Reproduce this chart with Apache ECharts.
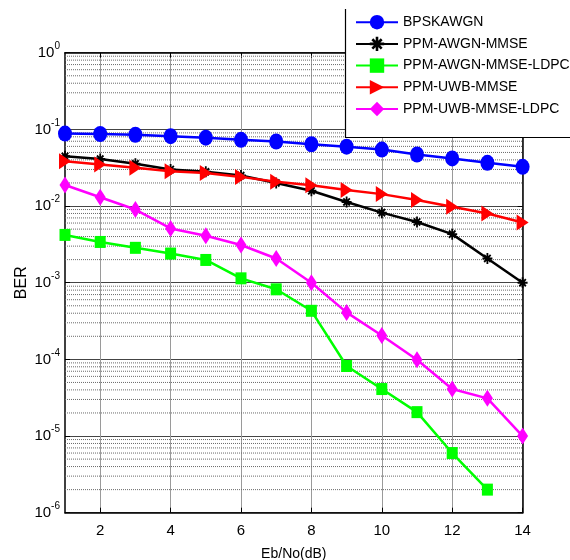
<!DOCTYPE html>
<html>
<head>
<meta charset="utf-8">
<script src="https://cdn.jsdelivr.net/npm/echarts@6/dist/echarts.min.js"></script>
<style>
html,body{margin:0;padding:0;background:#fff;}
#chart{width:570px;height:560px;}
</style>
</head>
<body>
<div id="chart"></div>
<script>
// ---- data ----
const ebno = [1, 2, 3, 4, 5, 6, 7, 8, 9, 10, 11, 12, 13, 14];
const xTickValues = [2, 4, 6, 8, 10, 12, 14];
const seriesNames = ['BPSKAWGN', 'PPM-AWGN-MMSE', 'PPM-AWGN-MMSE-LDPC', 'PPM-UWB-MMSE', 'PPM-UWB-MMSE-LDPC'];
const bpskAwgn = [0.088, 0.087, 0.085, 0.0815, 0.078, 0.073, 0.0695, 0.064, 0.0595, 0.0545, 0.047, 0.0418, 0.0366, 0.0325];
const ppmAwgnMmse = [0.0445, 0.041, 0.0355, 0.0300, 0.0280, 0.0250, 0.0200, 0.0158, 0.0113, 0.0082, 0.0062, 0.0043, 0.00207, 0.00100];
const ppmAwgnMmseLdpc = [0.0042, 0.0034, 0.00285, 0.0024, 0.00198, 0.00114, 0.00082, 0.00043, 0.000082, 0.000041, 0.0000205, 0.0000060, 0.0000020];
const ppmUwbMmse = [0.0385, 0.0348, 0.0315, 0.0285, 0.0270, 0.0240, 0.0207, 0.0187, 0.0162, 0.0143, 0.0120, 0.0098, 0.0080, 0.0061];
const ppmUwbMmseLdpc = [0.0188, 0.0130, 0.0090, 0.0051, 0.0041, 0.0031, 0.00207, 0.00100, 0.00041, 0.000205, 0.000099, 0.000041, 0.000031, 0.0000100];
const yMin = 1e-6, yMax = 1;
const xMin = 1, xMax = 14;

// ---- helpers ----
function pairs(arr) { return arr.map((v, i) => [ebno[i], v]); }
const minorValues = [];
for (let e = -6; e < 0; e++) {
  for (let m = 2; m <= 9; m++) minorValues.push(m * Math.pow(10, e));
}
const FONT = "'Liberation Sans', Arial, sans-serif";
const asteriskPath = 'path://M-0.9,-5 L0.9,-5 L0.9,5 L-0.9,5 Z M-5,-0.9 L5,-0.9 L5,0.9 L-5,0.9 Z ' +
  'M-3.9,-2.6 L-2.6,-3.9 L3.9,2.6 L2.6,3.9 Z M2.6,-3.9 L3.9,-2.6 L-2.6,3.9 L-3.9,2.6 Z';
const triRight = 'path://M0,0 L10,5 L0,10 Z';

const chart = echarts.init(document.getElementById('chart'), null, { renderer: 'canvas' });
const gridL = 65, gridT = 52.7, gridR = 570 - 522.6, gridB = 560 - 512.7;

const yLabel = {
  margin: 5,
  formatter: function (v) {
    const e = Math.round(Math.log10(v));
    return '{b|10}{s|' + e + '}';
  },
  rich: {
    b: { fontSize: 15, fontFamily: FONT, color: '#000', verticalAlign: 'middle', lineHeight: 16 },
    s: { fontSize: 10, fontFamily: FONT, color: '#000', verticalAlign: 'middle', padding: [0, 0, 13, 0], lineHeight: 10 }
  }
};

function lineSeries(name, data, color, symbol, size, z) {
  return {
    name: name, type: 'line', data: pairs(data), z: z,
    symbol: symbol, symbolSize: size, showSymbol: true,
    lineStyle: { color: color, width: 2.5 },
    itemStyle: { color: color },
    emphasis: { disabled: true },
    animation: false
  };
}

const gridSeries = minorValues.map(function (v) {
  return {
    name: 'grid', type: 'line', silent: true, z: 1,
    data: [[xMin, v], [xMax, v]],
    symbol: 'none', showSymbol: false,
    lineStyle: { color: '#6a6a6a', width: 1, type: [1, 1] },
    emphasis: { disabled: true },
    animation: false
  };
});

chart.setOption({
  animation: false,
  backgroundColor: '#fff',
  textStyle: { fontFamily: FONT },
  grid: { left: gridL, top: gridT, right: gridR, bottom: gridB, containLabel: false, outerBoundsMode: 'none' },
  xAxis: [{
    type: 'value', min: xMin, max: xMax,
    name: 'Eb/No(dB)', nameLocation: 'middle', nameGap: 34,
    nameTextStyle: { fontSize: 14, color: '#000', fontFamily: FONT },
    axisLine: { show: true, lineStyle: { color: '#000', width: 1.5 } },
    axisTick: { show: true, inside: true, length: 5, customValues: xTickValues, lineStyle: { color: '#000' } },
    axisLabel: { customValues: xTickValues, fontSize: 15, color: '#000', margin: 11, fontFamily: FONT },
    splitLine: { show: true, lineStyle: { color: '#9a9a9a', width: 1 } }
  }, {
    type: 'value', min: xMin, max: xMax, position: 'top',
    axisLine: { show: true, lineStyle: { color: '#000', width: 1.5 } },
    axisTick: { show: true, inside: true, length: 5, customValues: xTickValues, lineStyle: { color: '#000' } },
    axisLabel: { show: false },
    splitLine: { show: false }
  }],
  yAxis: [{
    type: 'log', logBase: 10, min: yMin, max: yMax,
    name: 'BER', nameLocation: 'middle', nameGap: 35, nameRotate: 90, nameMoveOverlap: false,
    nameTextStyle: { fontSize: 16, color: '#000', fontFamily: FONT },
    axisLine: { show: true, lineStyle: { color: '#000', width: 1.5 } },
    axisTick: { show: true, inside: true, length: 5, lineStyle: { color: '#000' } },
    axisLabel: yLabel,
    splitLine: { show: true, lineStyle: { color: '#444', width: 1 } }
  }, {
    type: 'log', logBase: 10, min: yMin, max: yMax, position: 'right',
    axisLine: { show: true, lineStyle: { color: '#000', width: 1.5 } },
    axisTick: { show: true, inside: true, length: 5, lineStyle: { color: '#000' } },
    axisLabel: { show: false },
    splitLine: { show: false }
  }],
  legend: {
    data: seriesNames,
    orient: 'vertical',
    left: 355, top: 15,
    padding: 0,
    itemWidth: 42, itemHeight: 18, itemGap: 7.3,
    textStyle: { fontSize: 14, color: '#000', fontFamily: FONT },
    z: 20,
    selectedMode: false
  },
  graphic: [{
    type: 'rect', z: 15, silent: true,
    shape: { x: 346, y: 9, width: 230, height: 128 },
    style: { fill: '#fff', stroke: null }
  }, {
    type: 'polyline', z: 16, silent: true,
    shape: { points: [[345.5, 9], [345.5, 137.5], [572, 137.5]] },
    style: { stroke: '#000', lineWidth: 1.2, fill: null }
  }],
  series: gridSeries.concat([
    lineSeries(seriesNames[0], bpskAwgn, '#0000ff', 'circle', [14, 16], 3),
    lineSeries(seriesNames[1], ppmAwgnMmse, '#000000', asteriskPath, [10, 11], 4),
    lineSeries(seriesNames[2], ppmAwgnMmseLdpc, '#00ff00', 'rect', [11, 12], 5),
    lineSeries(seriesNames[3], ppmUwbMmse, '#ff0000', triRight, [12, 16], 6),
    lineSeries(seriesNames[4], ppmUwbMmseLdpc, '#ff00ff', 'diamond', [11, 17], 7)
  ])
});
</script>
</body>
</html>
